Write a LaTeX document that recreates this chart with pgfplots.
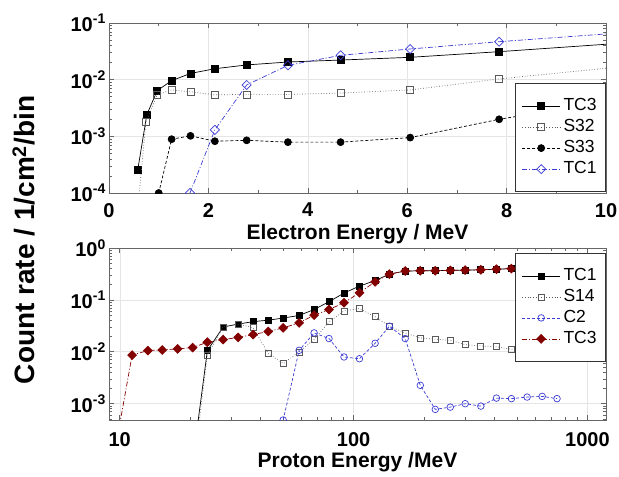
\documentclass[border=0pt]{standalone}
\usepackage{fontspec}
\setmainfont{Liberation Sans}
\usepackage{pgfplots}
\pgfplotsset{compat=1.18}
\definecolor{myblue}{RGB}{60,60,210}
\definecolor{dred}{RGB}{130,0,0}
\definecolor{sqgray}{RGB}{90,90,90}
\newcommand\tl[1]{10\textsuperscript{#1}}
\begin{document}
\begin{tikzpicture}
\useasboundingbox (-109bp,-284bp) rectangle (510bp,193bp);
\pgfplotsset{
  common/.style={
    scale only axis, width=497bp,
    axis line style={black!60, line width=0.6bp},
    tick style={black!60, line width=0.5bp},
    major tick length=5bp, minor tick length=3bp,
    tick label style={font=\fontsize{20bp}{24bp}\selectfont\bfseries, inner sep=1bp},
    label style={font=\fontsize{21bp}{25bp}\selectfont\bfseries, inner sep=1bp},
    grid=major, major grid style={black!10, line width=0.4bp},
    clip marker paths=true,
    legend style={font=\fontsize{17.5bp}{21bp}\selectfont, draw=black!80, line width=0.8bp,
      inner xsep=6bp, inner ysep=12bp,
      nodes={inner sep=3bp, text height=12bp, text depth=3bp},
      cells={anchor=west}},
    legend image code/.code={\draw[mark repeat=2,mark phase=2] plot coordinates {(0bp,0bp) (19bp,0bp) (38bp,0bp)};},
    yticklabel style={xshift=-2bp},
  }
}
\node[rotate=90, anchor=base, font=\fontsize{28bp}{32bp}\selectfont\bfseries] at (-74bp,-47bp) {Count rate / 1/cm\textsuperscript{2}/bin};

\begin{axis}[common, at={(0,0)}, anchor=south west, height=170bp,
  xmin=0, xmax=10, ymode=log, ymin=1e-4, ymax=1e-1,
  xtick={0,2,4,6,8,10}, xticklabels={0,2,4,6,8,10}, minor x tick num=1,
  ytick={1e-4,1e-3,1e-2,1e-1}, yticklabels={\tl{-4},\tl{-3},\tl{-2},\tl{-1}},
  minor ytick={2e-4,3e-4,4e-4,5e-4,6e-4,7e-4,8e-4,9e-4,2e-3,3e-3,4e-3,5e-3,6e-3,7e-3,8e-3,9e-3,2e-2,3e-2,4e-2,5e-2,6e-2,7e-2,8e-2,9e-2},
  xlabel={Electron Energy / MeV},
  xlabel style={at={(axis description cs:0.5,0)}, anchor=base, yshift=-46bp},
  xticklabel style={yshift=-9bp},
  legend style={at={(1,0)}, anchor=south east, yshift=1bp}]
\addplot[black, line width=0.7bp, mark=square*, mark size=3.5bp] coordinates {
(0.58,2.6e-4) (0.76,2.4e-3) (0.97,6.4e-3) (1.26,9.6e-3) (1.64,1.29e-2) (2.13,1.56e-2)
(2.77,1.82e-2) (3.6,2.05e-2) (4.66,2.22e-2) (6.06,2.48e-2) (7.85,3.12e-2) (10.3,4.4e-2)};
\addlegendentry{TC3}
\addplot[sqgray, dotted, line width=0.7bp, mark=square, mark size=3.5bp, mark options={solid, fill=white}] coordinates {
(0.58,5.6e-5) (0.745,1.82e-3) (0.97,5.4e-3) (1.26,6.6e-3) (1.64,6.1e-3) (2.13,5.4e-3)
(2.77,5.5e-3) (3.6,5.5e-3) (4.66,5.8e-3) (6.06,6.6e-3) (7.85,1.03e-2) (10.3,1.69e-2)};
\addlegendentry{S32}
\addplot[black, dash pattern=on 3bp off 2bp, line width=0.7bp, mark=*, mark size=3.5bp, mark options={solid}] coordinates {
(1.0,1.0e-4) (1.26,8.9e-4) (1.64,1.02e-3) (2.13,8.2e-4) (2.77,8.5e-4) (3.6,7.9e-4)
(4.66,7.9e-4) (6.06,9.5e-4) (7.85,2.0e-3) (10.3,4.5e-3)};
\addlegendentry{S33}
\addplot[myblue, dash pattern=on 5bp off 2bp on 1bp off 2bp, line width=0.7bp, mark=square, mark size=3.2bp, mark options={solid, rotate=45, fill=white}] coordinates {
(1.63,1.0e-4) (2.13,1.30e-3) (2.77,8.07e-3) (3.6,1.79e-2) (4.66,2.69e-2) (6.06,3.48e-2)
(7.85,4.68e-2) (10.3,6.7e-2)};
\addlegendentry{TC1}
\end{axis}

\begin{axis}[common, at={(0,-55bp)}, anchor=north west, height=172bp,
  xmode=log, ymode=log, xmin=9, xmax=1200, ymin=4.8e-4, ymax=1,
  xtick={10,100,1000}, xticklabels={10,100,1000},
  minor xtick={20,30,40,50,60,70,80,90,200,300,400,500,600,700,800,900},
  ytick={1e-3,1e-2,1e-1,1}, yticklabels={\tl{-3},\tl{-2},\tl{-1},\tl{0}},
  minor ytick={5e-4,6e-4,7e-4,8e-4,9e-4,2e-3,3e-3,4e-3,5e-3,6e-3,7e-3,8e-3,9e-3,2e-2,3e-2,4e-2,5e-2,6e-2,7e-2,8e-2,9e-2,0.2,0.3,0.4,0.5,0.6,0.7,0.8,0.9},
  xlabel={Proton Energy /MeV},
  xlabel style={at={(axis description cs:0.5,0)}, anchor=base, yshift=-47bp},
  xticklabel style={yshift=-11.5bp},
  legend style={at={(1,1)}, anchor=north east, yshift=-5bp}]
\addplot[black, line width=0.7bp, mark=square*, mark size=3bp] coordinates {
(20.7,1e-4) (23.7,1.05e-2) (27.7,3.0e-2) (32.1,3.4e-2) (37.2,3.8e-2) (43.2,4.05e-2)
(50,4.45e-2) (58.5,5.0e-2) (67.8,6.5e-2) (78.5,9.2e-2) (91,0.135) (105.9,0.184)
(123.6,0.235) (142.3,0.314) (166.2,0.359) (192.8,0.364) (223.5,0.364) (259,0.37)
(300,0.375) (350,0.38) (408,0.39) (473,0.40) (552,0.41) (640,0.41) (741,0.41)};
\addlegendentry{TC1}
\addplot[sqgray, dotted, line width=0.7bp, mark=square, mark size=3bp, mark options={solid, fill=white}] coordinates {
(21,1e-4) (23.7,8.6e-3) (27.7,3.0e-2) (32.1,3.39e-2) (37.2,2.9e-2) (43.2,9.2e-3)
(50,5.9e-3) (58.5,9.9e-3) (67.8,1.71e-2) (78.5,3.76e-2) (91,6.1e-2) (105.9,6.8e-2)
(123.6,4.7e-2) (142.3,3.1e-2) (166.2,2.3e-2) (192.8,1.84e-2) (223.5,1.74e-2) (259,1.66e-2)
(300,1.37e-2) (350,1.29e-2) (408,1.24e-2) (473,1.11e-2) (552,1.08e-2) (640,1.05e-2) (741,1.0e-2)};
\addlegendentry{S14}
\addplot[myblue, dash pattern=on 3bp off 2bp, line width=0.7bp, mark=o, mark size=3.3bp, mark options={solid, fill=white}] coordinates {
(50,4.8e-4) (58.5,1.06e-2) (67.8,2.3e-2) (78.5,1.79e-2) (91,7.9e-3) (105.9,7.3e-3)
(123.6,1.45e-2) (142.3,3.1e-2) (166.2,1.79e-2) (192.8,2.24e-3) (223.5,7.7e-4) (259,8.5e-4)
(300,9.9e-4) (350,8.9e-4) (408,1.27e-3) (473,1.24e-3) (552,1.33e-3) (640,1.37e-3) (741,1.24e-3)};
\addlegendentry{C2}
\addplot[dred, dash pattern=on 5bp off 2bp on 1bp off 2bp, line width=0.7bp, mark=square*, mark size=3.1bp, mark options={solid, rotate=45}] coordinates {
(9.47,1e-4) (11.3,8.6e-3) (13.2,1.05e-2) (15.2,1.08e-2) (17.7,1.13e-2) (20.5,1.2e-2)
(23.7,1.52e-2) (27.7,1.71e-2) (32.1,1.88e-2) (37.2,2.14e-2) (43.2,2.45e-2) (50,2.88e-2)
(58.5,3.59e-2) (67.8,5.06e-2) (78.5,6.5e-2) (91,8.75e-2) (105.9,0.137) (123.6,0.223)
(142.3,0.314) (166.2,0.359) (192.8,0.364) (223.5,0.364) (259,0.37) (300,0.375)
(350,0.38) (408,0.39) (473,0.40) (552,0.41) (640,0.41) (741,0.41)};
\addlegendentry{TC3}
\end{axis}
\end{tikzpicture}
\end{document}
